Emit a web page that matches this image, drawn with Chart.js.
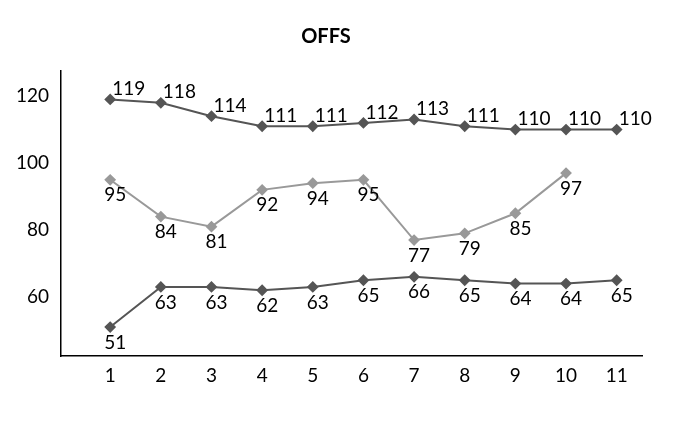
<!DOCTYPE html>
<html>
<head>
<script src="https://cdn.jsdelivr.net/npm/chart.js@4"></script>
<style>
  body { margin: 0; background: #fff; }
  #wrap { width: 699px; height: 430px; }
</style>
</head>
<body>
<div id="wrap"><canvas id="chart"></canvas></div>
<script>
const categories = [1, 2, 3, 4, 5, 6, 7, 8, 9, 10, 11];
const topSeries = [119, 118, 114, 111, 111, 112, 113, 111, 110, 110, 110];
const midSeries = [95, 84, 81, 92, 94, 95, 77, 79, 85, 97, null];
const lowSeries = [51, 63, 63, 62, 63, 65, 66, 65, 64, 64, 65];
const yTicks = [60, 80, 100, 120];

const FONT = 'Lato, "DejaVu Sans", sans-serif';

// value labels next to each point
const valueLabels = {
  id: 'valueLabels',
  afterDatasetsDraw(chart) {
    const ctx = chart.ctx;
    ctx.save();
    ctx.font = '19px ' + FONT;
    ctx.fillStyle = '#000';
    ctx.textAlign = 'left';
    chart.data.datasets.forEach((ds, i) => {
      const meta = chart.getDatasetMeta(i);
      meta.data.forEach((pt, j) => {
        const v = ds.data[j].y;
        if (v == null) return;
        if (ds.labelPos === 'above') {
          ctx.textBaseline = 'bottom';
          ctx.fillText(v, pt.x + 2, pt.y - 1);
        } else {
          ctx.textBaseline = 'top';
          ctx.fillText(v, pt.x - 6, pt.y + 6);
        }
      });
    });
    ctx.restore();
  }
};

function series(data, color, labelPos) {
  return {
    data: categories.map((c, i) => ({ x: c, y: data[i] })),
    borderColor: color,
    backgroundColor: color,
    borderWidth: 2,
    pointStyle: 'rectRot',
    pointRadius: 4.5,
    pointHoverRadius: 4.5,
    tension: 0,
    spanGaps: false,
    labelPos: labelPos
  };
}

new Chart(document.getElementById('chart'), {
  type: 'line',
  data: {
    datasets: [
      series(topSeries, '#555555', 'above'),
      series(midSeries, '#999999', 'below'),
      series(lowSeries, '#555555', 'below')
    ]
  },
  options: {
    responsive: true,
    maintainAspectRatio: false,
    animation: false,
    layout: { padding: { left: 10, right: 57, top: 5, bottom: 35 } },
    scales: {
      x: {
        type: 'linear',
        min: 0.03,
        max: 11.5,
        afterBuildTicks: (axis) => { axis.ticks = categories.map(v => ({ value: v })); },
        grid: { display: false, drawTicks: false },
        border: { color: '#000', width: 1.5 },
        ticks: { color: '#000', font: { family: FONT, size: 19 }, padding: 8 }
      },
      y: {
        min: 42.3,
        max: 127.5,
        afterBuildTicks: (axis) => { axis.ticks = yTicks.map(v => ({ value: v })); },
        grid: { display: false, drawOnChartArea: false, drawTicks: true, tickLength: 6, tickColor: '#000' },
        border: { color: '#000', width: 1.5 },
        ticks: { color: '#000', font: { family: FONT, size: 19 }, padding: 6 }
      }
    },
    plugins: {
      legend: { display: false },
      tooltip: { enabled: false },
      title: {
        display: true,
        text: 'OFFS',
        color: '#000',
        font: { family: FONT, size: 20, weight: 'bold' },
        padding: { top: 20, bottom: 22 }
      }
    }
  },
  plugins: [valueLabels]
});
</script>
</body>
</html>
